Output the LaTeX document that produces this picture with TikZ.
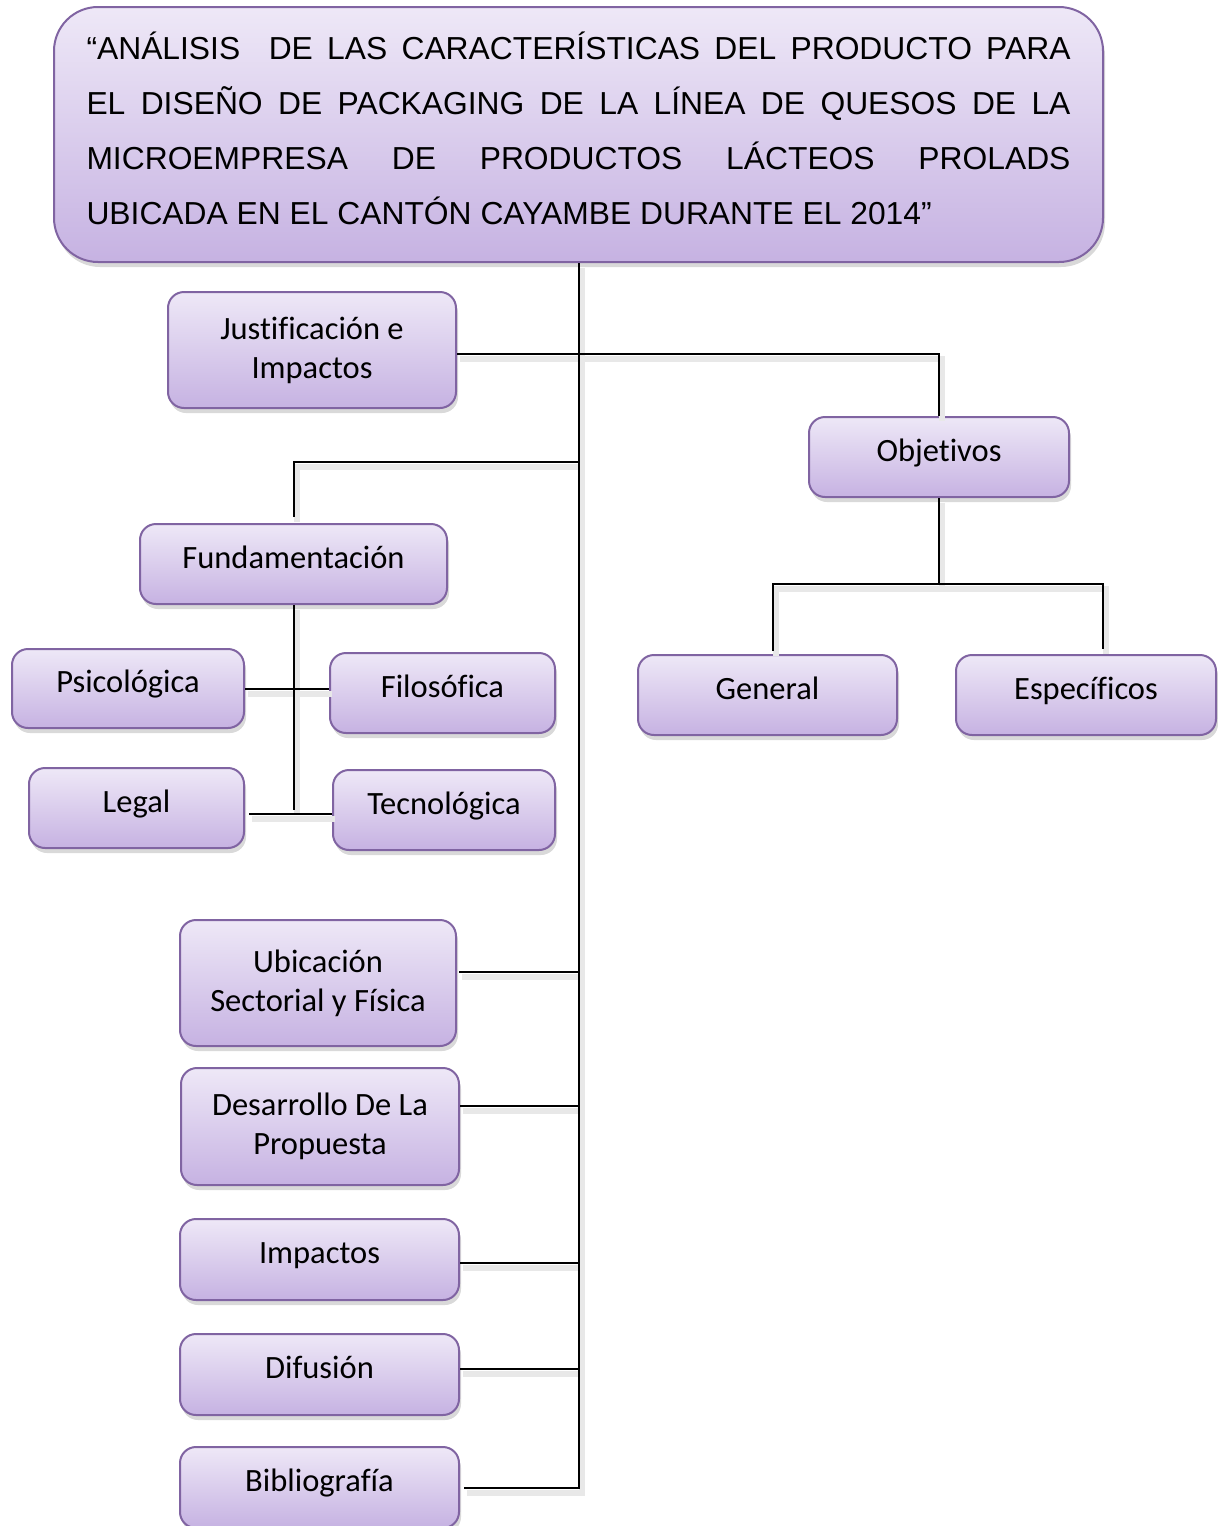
\documentclass[tikz,border=0pt]{standalone}
\usepackage{fontspec}
\setmainfont{Carlito}[Ligatures=CommonOff]
\newfontfamily\titlefont{Liberation Sans}
\usepackage{tikz}
\usetikzlibrary{positioning, shadows}
\definecolor{lilaborde}{HTML}{8064A2}
\definecolor{lilaclaro}{HTML}{EEE8F7}
\definecolor{lilaoscuro}{HTML}{C6B2E2}

% conectores del esquema (se dibujan dos veces: sombra y linea)
\newcommand{\conectores}{%
	\draw[enlace] (titulo.south) -- (titulo.south |- bib.east) -- ([xshift=2pt]bib.east);
	\draw[enlace] ([yshift=-2pt]just.east) -- ([yshift=-2pt]obj.north |- just.east) -- (obj.north);
	\draw[enlace] ([yshift=3pt]fund.north) |- (nudofund);
	\draw[enlace] (fund.south) -- ([yshift=-1pt]fund.south |- legal.east);
	\draw[enlace] (psi.east) -- (psi.east -| filo.west);
	\draw[enlace] ([xshift=2pt,yshift=-3pt]legal.east) -- ([yshift=-3pt]legal.east -| tec.west);
	\draw[enlace] (obj.south) -- (nudoobj);
	\draw[enlace] ([xshift=2.5pt,yshift=1.5pt]gen.north) |- (nudoobj) -| ([xshift=8.5pt,yshift=2.5pt]esp.north);
	\draw[enlace] ([xshift=1pt,yshift=5.5pt]ubic.east) -- ([yshift=5.5pt]ubic.east -| titulo.south);
	\draw[enlace] ([yshift=10.5pt]desa.east) -- ([yshift=10.5pt]desa.east -| titulo.south);
	\draw[enlace] ([yshift=-1.5pt]imp.east) -- ([yshift=-1.5pt]imp.east -| titulo.south);
	\draw[enlace] ([yshift=3pt]dif.east) -- ([yshift=3pt]dif.east -| titulo.south);
}

\begin{document}
\begin{tikzpicture}[x=0.5pt, y=-0.5pt,
	caja/.style={draw=lilaborde, line width=1pt, rounded corners=8pt, top color=lilaclaro, bottom color=lilaoscuro, drop shadow={shadow xshift=1pt, shadow yshift=-2.5pt, opacity=0.3}, align=center, font=\fontsize{16.25}{19.5}\selectfont, minimum height=40pt, inner sep=2pt},
	una/.style={text height=11.5pt, text depth=7.5pt},
	sombra/.style={draw=black!9, line width=3pt, transform canvas={shift={(1.5pt,-2.5pt)}}}]
	\useasboundingbox (0,0) rectangle (1218,1526);

	% titulo
	\node[caja, rounded corners=22pt, text width=492pt, inner xsep=16.25pt, minimum height=127.5pt, text depth=88.5pt, align=justify, font=\titlefont\fontsize{15.9}{27.5}\selectfont] (titulo) at (578.5,134.5)
		{“ANÁLISIS\ \ DE LAS CARACTERÍSTICAS DEL PRODUCTO PARA\linebreak EL DISEÑO DE PACKAGING DE LA LÍNEA DE QUESOS DE LA\linebreak MICROEMPRESA DE PRODUCTOS LÁCTEOS PROLADS\linebreak UBICADA EN EL CANTÓN CAYAMBE DURANTE EL 2014”};

	% ramas
	\node[caja, minimum width=144pt, minimum height=58pt] (just) at (312,350) {Justificación e\\Impactos};
	\node[caja, una, minimum width=130pt] (obj) at (939,457) {Objetivos};
	\node[caja, una, minimum width=153.5pt] (fund) at (293.5,564) {Fundamentación};
	\node[caja, una, minimum width=116pt, minimum height=39.5pt] (psi) at (128,688.5) {Psicológica};
	\node[caja, una, minimum width=112.5pt] (filo) at (442.5,693) {Filosófica};
	\node[caja, una, minimum width=107.5pt] (legal) at (136.5,808) {Legal};
	\node[caja, una, minimum width=111pt] (tec) at (444,810) {Tecnológica};
	\node[caja, una, minimum width=129.5pt] (gen) at (767.5,695) {General};
	\node[caja, una, minimum width=130pt] (esp) at (1086,695) {Específicos};
	\node[caja, minimum width=138pt, minimum height=63pt] (ubic) at (318,983) {Ubicación\\Sectorial y Física};
	\node[caja, minimum width=139pt, minimum height=58.5pt] (desa) at (320,1126.5) {Desarrollo De La\\Propuesta};
	\node[caja, una, minimum width=139.5pt, minimum height=40.5pt] (imp) at (319.5,1259.5) {Impactos};
	\node[caja, una, minimum width=139.5pt, minimum height=40.5pt] (dif) at (319.5,1374.5) {Difusión};
	\node[caja, una, minimum width=139.5pt, minimum height=40.5pt] (bib) at (319.5,1487.5) {Bibliografía};

	\coordinate (nudofund) at (578.5,462);
	\coordinate (nudoobj) at (939,584);

	\begin{scope}[enlace/.style={sombra}]
		\conectores
	\end{scope}
	\begin{scope}[enlace/.style={line width=1pt, black}]
		\conectores
	\end{scope}
\end{tikzpicture}
\end{document}
